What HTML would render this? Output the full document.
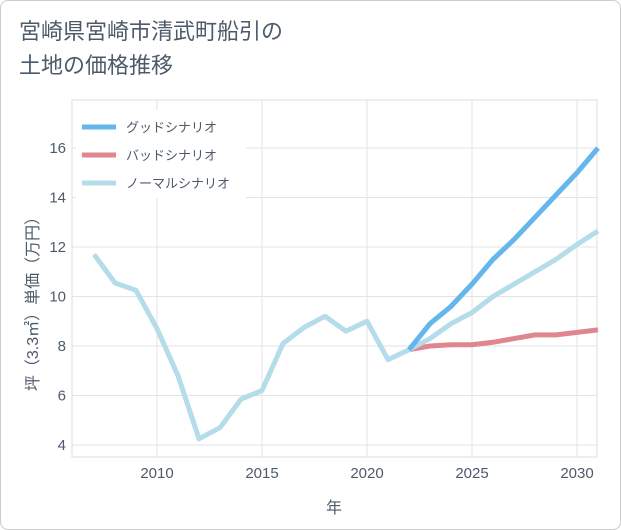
<!DOCTYPE html>
<html><head><meta charset="utf-8"><style>
body{margin:0;background:#fff;}
.card{position:absolute;left:0;top:0;width:619px;height:528px;border:1px solid #ccc;border-radius:8px;background:#fff;}
.title{position:absolute;left:18px;top:14px;font:22px "Liberation Sans","Noto Sans CJK JP",sans-serif;color:#4d5a6a;line-height:34px;}
svg text{font-family:"Liberation Sans","Noto Sans CJK JP",sans-serif;}
</style></head><body>
<div class="card">
<div class="title">宮崎県宮崎市清武町船引の<br>土地の価格推移</div>
</div>
<svg id="chart" width="621" height="530" style="position:absolute;left:0;top:0"></svg>
<script>
const years=[2007,2008,2009,2010,2011,2012,2013,2014,2015,2016,2017,2018,2019,2020,2021,2022,2023,2024,2025,2026,2027,2028,2029,2030,2031];
const normalVals=[11.7,10.55,10.25,8.7,6.8,4.25,4.7,5.85,6.2,8.1,8.75,9.2,8.6,9.0,7.45,7.85,8.3,8.9,9.35,10.0,10.5,11.0,11.5,12.1,12.65];
const forecastYears=[2022,2023,2024,2025,2026,2027,2028,2029,2030,2031];
const goodVals=[7.85,8.9,9.6,10.5,11.5,12.3,13.2,14.1,15.0,16.0];
const badVals=[7.85,8.0,8.05,8.05,8.15,8.3,8.45,8.45,8.55,8.65];
const xTicks=[2010,2015,2020,2025,2030];
const yTicks=[4,6,8,10,12,14,16];
const NS='http://www.w3.org/2000/svg';
const svg=document.getElementById('chart');
const L=72,R=597,T=100,B=457;
const TXT='#4d5a6a';
const x=v=>157+(v-2010)*21;
const y=v=>445-(v-4)*24.75;
function mk(t,a,p){const e=document.createElementNS(NS,t);for(const k in a)e.setAttribute(k,a[k]);(p||svg).appendChild(e);return e;}
const bg=mk('rect',{x:L,y:T,width:R-L,height:B-T,fill:'#fff',stroke:'#ddd'});


xTicks.forEach(v=>{
 const g=mk('line',{x1:x(v),x2:x(v),y1:T,y2:B,stroke:'#e3e3e3'});
 
 
 const t=mk('text',{x:x(v),y:478,'text-anchor':'middle','font-size':15,fill:TXT});t.textContent=v;
 
 
});
yTicks.forEach(v=>{
 const g=mk('line',{x1:L,x2:R,y1:y(v),y2:y(v),stroke:'#e3e3e3'});
 
 
 const t=mk('text',{x:66,y:y(v)+5,'text-anchor':'end','font-size':15,fill:TXT});t.textContent=v;
 
 
});
const xt=mk('text',{x:334,y:513,'text-anchor':'middle','font-size':16,fill:TXT});xt.textContent='年';


const yt=mk('text',{x:0,y:0,transform:'translate(38,300) rotate(-90)','text-anchor':'middle','font-size':16,fill:TXT});yt.textContent='坪（3.3㎡）単価（万円）';


function line(xs,vs,color,name){
 const d=xs.map((v,i)=>(i?'L':'M')+x(v)+','+y(vs[i])).join(' ');
 const p=mk('path',{d:d,fill:'none',stroke:color,'stroke-width':5,'stroke-linejoin':'round'});
 
 
}
line(forecastYears,badVals,'#e0868f','bad-scenario-line');
line(years,normalVals,'#b5dcea','normal-scenario-line');
line(forecastYears,goodVals,'#64b6ec','good-scenario-line');
const lb=mk('rect',{x:76,y:110,width:170,height:88,fill:'#fff'});


const leg=[['グッドシナリオ','#64b6ec'],['バッドシナリオ','#e0868f'],['ノーマルシナリオ','#b5dcea']];
leg.forEach((l,i)=>{
 const g=mk('g',{});
 
 
 const yy=127+i*28;
 mk('line',{x1:82,x2:116,y1:yy,y2:yy,stroke:l[1],'stroke-width':5},g);
 const t=mk('text',{x:126,y:yy+5,'font-size':13,fill:TXT},g);t.textContent=l[0];
});
</script>
</body></html>
